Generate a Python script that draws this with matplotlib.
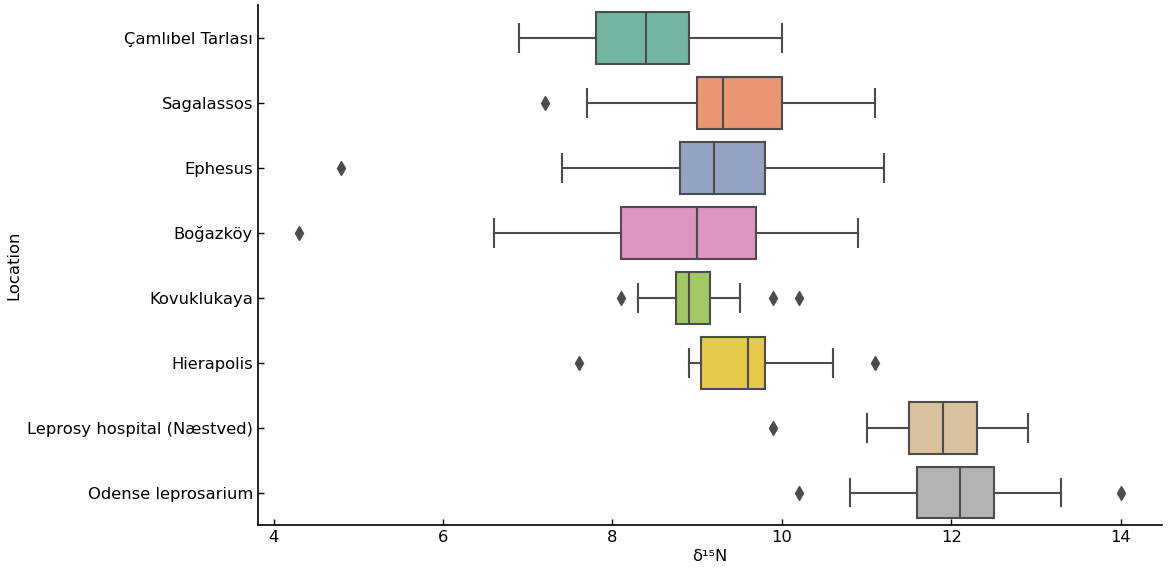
import matplotlib
matplotlib.use("Agg")
import matplotlib.pyplot as plt
import seaborn as sns

locations = ["Çamlıbel Tarlası", "Sagalassos", "Ephesus", "Boğazköy", "Kovuklukaya",
             "Hierapolis", "Leprosy hospital (Næstved)", "Odense leprosarium"]
whisker_low = [6.9, 7.7, 7.4, 6.6, 8.3, 8.9, 11.0, 10.8]
q1 = [7.8, 9.0, 8.8, 8.1, 8.75, 9.05, 11.5, 11.6]
median = [8.4, 9.3, 9.2, 9.0, 8.9, 9.6, 11.9, 12.1]
q3 = [8.9, 10.0, 9.8, 9.7, 9.15, 9.8, 12.3, 12.5]
whisker_high = [10.0, 11.1, 11.2, 10.9, 9.5, 10.6, 12.9, 13.3]
outliers = [[], [7.2], [4.8], [4.3], [8.1, 9.9, 10.2], [7.6, 11.1], [9.9], [10.2, 14.0]]

xticks = [4, 6, 8, 10, 12, 14]

colors = sns.color_palette("Set2", 8, desat=0.75)
line_color = "#4c4c4c"

fig = plt.figure(figsize=(11.7, 5.73), dpi=100)
ax = fig.add_axes([0.2205, 0.0838, 0.7725, 0.907])

stats = []
for i, name in enumerate(locations):
    stats.append(dict(label=name, whislo=whisker_low[i], q1=q1[i], med=median[i],
                      q3=q3[i], whishi=whisker_high[i], fliers=outliers[i]))

positions = list(range(len(locations)))
bp = ax.bxp(stats, positions=positions, vert=False, widths=0.8, patch_artist=True,
            showfliers=True, capwidths=0.43,
            boxprops=dict(edgecolor=line_color, linewidth=1.5),
            medianprops=dict(color=line_color, linewidth=1.5),
            whiskerprops=dict(color=line_color, linewidth=1.5),
            capprops=dict(color=line_color, linewidth=1.5),
            flierprops=dict(marker="d", markersize=7, markerfacecolor=line_color,
                            markeredgecolor=line_color, linestyle="none"))
for patch, c in zip(bp["boxes"], colors):
    patch.set_facecolor(c)

ax.set_ylim(len(locations) - 0.5, -0.5)
ax.set_xlim(3.815, 14.485)
ax.set_xticks(xticks)
ax.set_xticklabels([str(t) for t in xticks])
ax.set_yticks(positions)
ax.set_yticklabels(locations)
ax.tick_params(direction="in", labelsize=11.8, length=4, width=1)
ax.spines["top"].set_visible(False)
ax.spines["right"].set_visible(False)
ax.spines["left"].set_linewidth(1.2)
ax.spines["bottom"].set_linewidth(1.2)
ax.set_xlabel("δ¹⁵N", fontsize=11.8, labelpad=3)
ax.set_ylabel("Location", fontsize=11.8, labelpad=4)

fig.savefig("out.png", dpi=100)
